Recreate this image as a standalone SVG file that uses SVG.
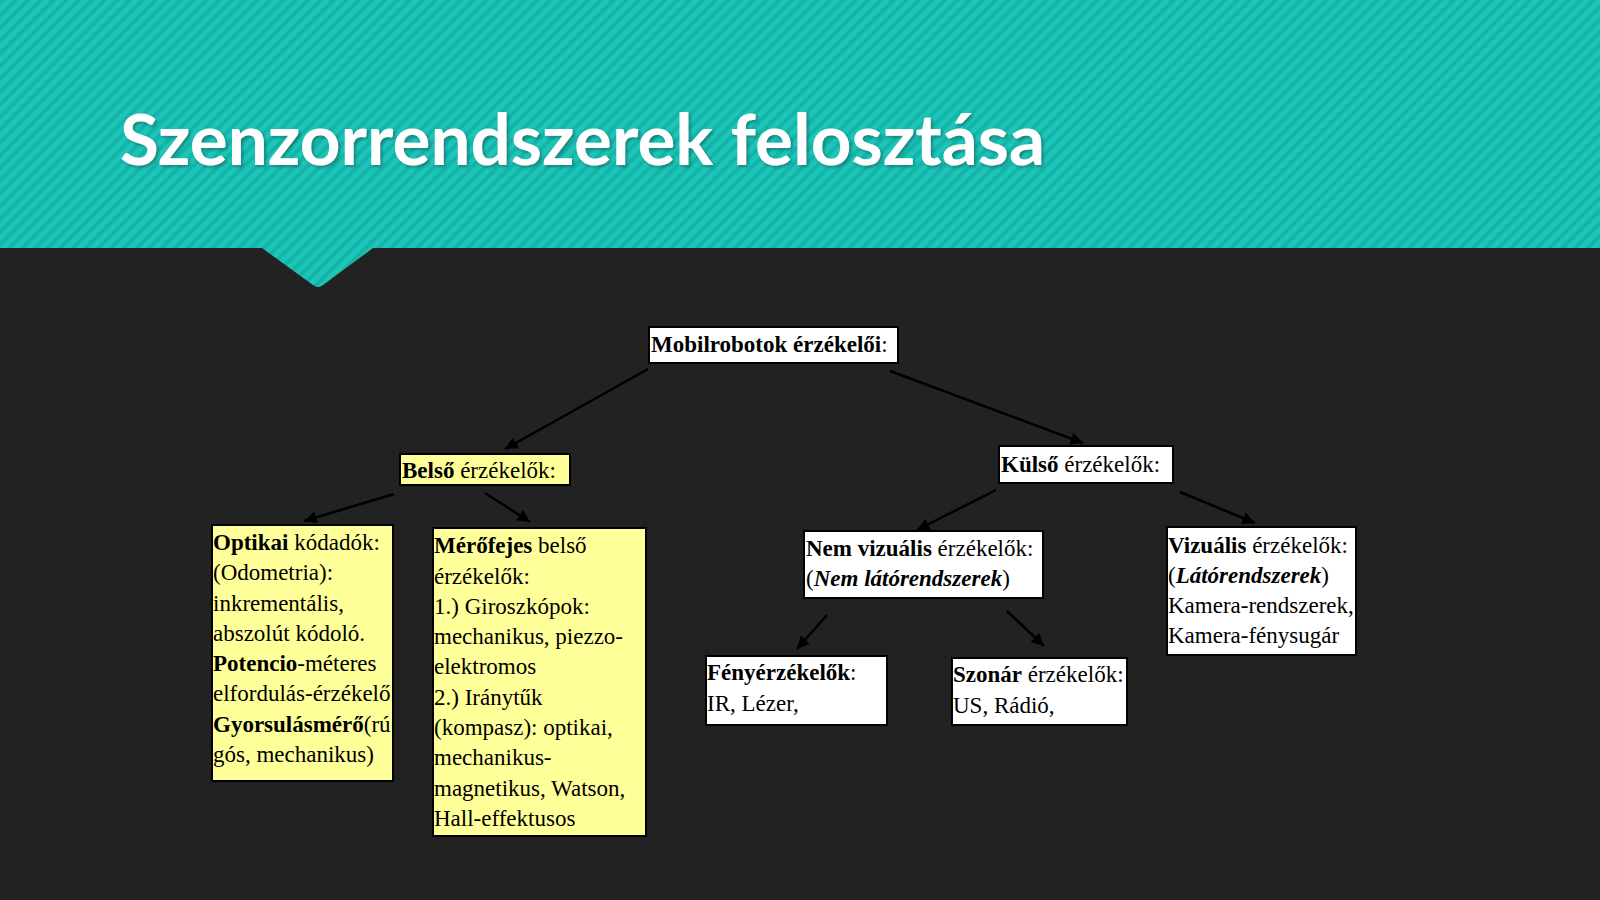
<svg xmlns="http://www.w3.org/2000/svg" width="1600" height="900" viewBox="0 0 1600 900">
<defs>
<pattern id="stripes" width="9" height="9" patternUnits="userSpaceOnUse" patternTransform="rotate(45)">
<rect width="9" height="9" fill="#1dc5b9"/>
<rect width="4" height="9" fill="#15b4a9"/>
</pattern>
<marker id="arr" viewBox="0 0 10 10" refX="10" refY="5" markerWidth="5.5" markerHeight="5" orient="auto" markerUnits="strokeWidth">
<path d="M0,0 L10,5 L0,10 z" fill="#000"/>
</marker>
<clipPath id="clipOpt"><rect x="212" y="525" width="181" height="256"/></clipPath>
<filter id="sh" x="-5%" y="-20%" width="110%" height="140%">
<feDropShadow dx="2" dy="2" stdDeviation="1.5" flood-color="#0a5f58" flood-opacity="0.6"/>
</filter>
</defs>
<style>
.box{stroke:#000;stroke-width:2}
.w{fill:#ffffff}
.y{fill:#ffff99}
.t{font-family:"Liberation Serif","Times New Roman",serif;font-size:23px;fill:#000}
.b{font-weight:bold}
.i{font-style:italic}
.c{stroke:#000;stroke-width:2.5;fill:none;marker-end:url(#arr)}
</style>
<rect width="1600" height="900" fill="#222222"/>
<path d="M0,0 H1600 V248 H373 L323,285 Q318,289 313,285 L262,248 H0 Z" fill="url(#stripes)"/>
<text x="120" y="165" font-family="Lato, 'Open Sans', sans-serif" font-weight="bold" font-size="70" fill="#ffffff" textLength="925" lengthAdjust="spacingAndGlyphs" filter="url(#sh)">Szenzorrendszerek felosztása</text>

<g id="connectors">
<line class="c" x1="648" y1="369" x2="505" y2="449"/>
<line class="c" x1="890" y1="371" x2="1083" y2="443"/>
<line class="c" x1="394" y1="494" x2="304" y2="521"/>
<line class="c" x1="485" y1="493" x2="530" y2="522"/>
<line class="c" x1="996" y1="490" x2="917" y2="530"/>
<line class="c" x1="1180" y1="492" x2="1255" y2="523"/>
<line class="c" x1="827" y1="615" x2="797" y2="649"/>
<line class="c" x1="1007" y1="611" x2="1044" y2="646"/>
</g>

<g id="mobilrobotok">
<rect class="box w" x="649" y="327" width="249" height="36"/>
<text class="t" x="651" y="352"><tspan class="b">Mobilrobotok érzékelői</tspan>:</text>
</g>

<g id="belso">
<rect class="box y" x="400" y="454" width="170" height="31"/>
<text class="t" x="402" y="478"><tspan class="b">Belső</tspan> érzékelők:</text>
</g>

<g id="kulso">
<rect class="box w" x="999" y="446" width="174" height="37"/>
<text class="t" x="1001" y="472"><tspan class="b">Külső</tspan> érzékelők:</text>
</g>

<g id="optikai">
<rect class="box y" x="212" y="525" width="181" height="256"/>
<g clip-path="url(#clipOpt)">
<text class="t" x="213" y="550"><tspan class="b">Optikai</tspan> kódadók:</text>
<text class="t" x="213" y="580">(Odometria):</text>
<text class="t" x="213" y="610.5">inkrementális,</text>
<text class="t" x="213" y="641">abszolút kódoló.</text>
<text class="t" x="213" y="671"><tspan class="b">Potencio</tspan>-méteres</text>
<text class="t" x="213" y="701">elfordulás-érzékelő</text>
<text class="t" x="213" y="731.5"><tspan class="b">Gyorsulásmérő</tspan>(rú</text>
<text class="t" x="213" y="762">gós, mechanikus)</text>
</g>
</g>

<g id="merofejes">
<rect class="box y" x="433" y="528" width="213" height="308"/>
<text class="t" x="434" y="553"><tspan class="b">Mérőfejes</tspan> belső</text>
<text class="t" x="434" y="583.5">érzékelők:</text>
<text class="t" x="434" y="614">1.) Giroszkópok:</text>
<text class="t" x="434" y="644">mechanikus, piezzo-</text>
<text class="t" x="434" y="674">elektromos</text>
<text class="t" x="434" y="704.5">2.) Iránytűk</text>
<text class="t" x="434" y="735">(kompasz): optikai,</text>
<text class="t" x="434" y="765">mechanikus-</text>
<text class="t" x="434" y="795.5">magnetikus, Watson,</text>
<text class="t" x="434" y="826">Hall-effektusos</text>
</g>

<g id="nemvizualis">
<rect class="box w" x="804" y="531" width="239" height="67"/>
<text class="t" x="806" y="556"><tspan class="b">Nem vizuális</tspan> érzékelők:</text>
<text class="t" x="806" y="586">(<tspan class="b i">Nem látórendszerek</tspan>)</text>
</g>

<g id="vizualis">
<rect class="box w" x="1167" y="527" width="189" height="128"/>
<text class="t" x="1168" y="553"><tspan class="b">Vizuális</tspan> érzékelők:</text>
<text class="t" x="1168" y="583">(<tspan class="b i">Látórendszerek</tspan>)</text>
<text class="t" x="1168" y="613">Kamera-rendszerek,</text>
<text class="t" x="1168" y="643">Kamera-fénysugár</text>
</g>

<g id="fenyerzekelok">
<rect class="box w" x="706" y="656" width="181" height="69"/>
<text class="t" x="707" y="680"><tspan class="b">Fényérzékelők</tspan>:</text>
<text class="t" x="707" y="711">IR, Lézer,</text>
</g>

<g id="szonar">
<rect class="box w" x="952" y="658" width="175" height="67"/>
<text class="t" x="953" y="682"><tspan class="b">Szonár</tspan> érzékelők:</text>
<text class="t" x="953" y="713">US, Rádió,</text>
</g>
</svg>
